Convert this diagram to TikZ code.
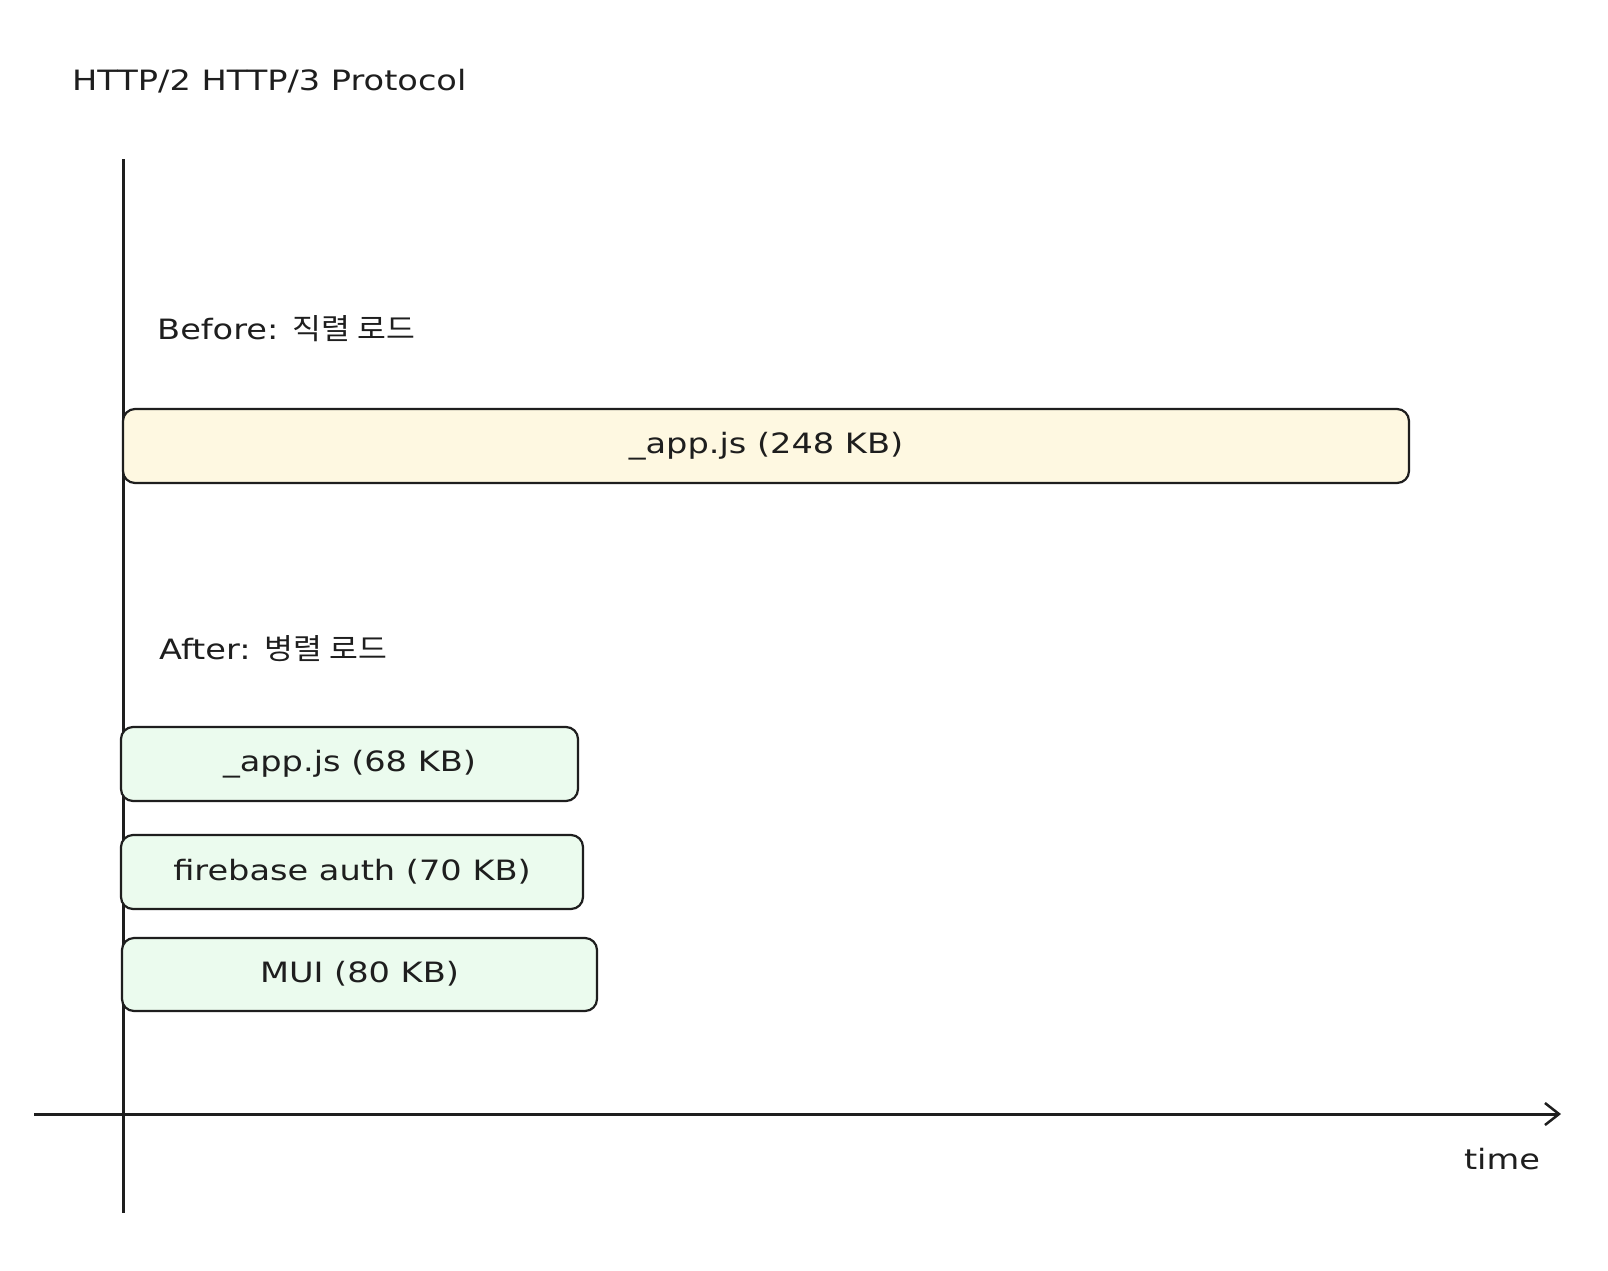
\documentclass[tikz,border=0pt]{standalone}
\usepackage{fontspec}
\setmainfont{DejaVu Sans}[FakeStretch=1.2]
\newfontfamily\kr{Noto Sans CJK KR}[FakeStretch=1.08]
\usetikzlibrary{arrows.meta}
\definecolor{ink}{HTML}{1E1E1E}
\definecolor{yelfill}{HTML}{FEF8E1}
\definecolor{grnfill}{HTML}{EBFBEE}
\tikzset{
  lbl/.style={font=\fontsize{28}{33}\selectfont, text=ink, inner sep=0pt},
  bar/.style={draw=ink, line width=2.2pt, rounded corners=12pt, inner sep=0pt},
  axis/.style={draw=ink, line width=3pt}
}
\begin{document}
\begin{tikzpicture}[x=1pt,y=-1pt]
\useasboundingbox[fill=white] (0,0) rectangle (1608,1270);
% axes
\coordinate (vtop) at (123,159);
\coordinate (vbot) at (123,1213);
\coordinate (hl) at (34,1114);
\coordinate (hr) at (1561,1114);
\draw[axis] (vtop) -- (vbot);
\draw[axis, -{Straight Barb[length=14pt,width=22pt,line width=2.5pt]}] (hl) -- (hr);
% labels
\node[lbl, anchor=west] (title) at (72,81) {HTTP/2 HTTP/3 Protocol};
\node[lbl, anchor=west] (before) at (157,329) {Before: {\kr\fontsize{29}{33}\selectfont 직렬 로드}};
\node[lbl, anchor=west] (after) at (159,649) {After: {\kr\fontsize{29}{33}\selectfont 병렬 로드}};
\node[lbl] (time) at (1502,1159) {time};
% bars
\draw[bar, fill=yelfill] (123,409) rectangle (1409,483);
\node[lbl] (b1) at (766,446) {\_app.js (248 KB)};
\draw[bar, fill=grnfill] (121,727) rectangle (578,801);
\node[lbl] (b2) at (349.5,764) {\_app.js (68 KB)};
\draw[bar, fill=grnfill] (121,835) rectangle (583,909);
\node[lbl] (b3) at (352,872) {firebase auth (70 KB)};
\draw[bar, fill=grnfill] (122,938) rectangle (597,1011);
\node[lbl] (b4) at (359.5,974) {MUI (80 KB)};
\end{tikzpicture}
\end{document}
